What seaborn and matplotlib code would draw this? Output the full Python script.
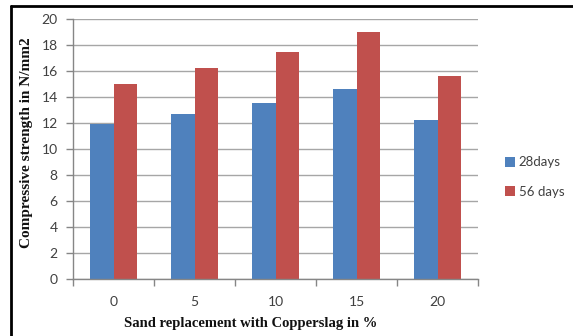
import matplotlib
matplotlib.use("Agg")
import matplotlib.pyplot as plt
import seaborn as sns
import pandas as pd
from matplotlib.patches import Patch
from matplotlib.lines import Line2D

# Sand replacement levels (%) and compressive strength (N/mm2)
replacement = ["0", "5", "10", "15", "20"]
days28 = [11.9, 12.7, 13.55, 14.6, 12.25]
days56 = [15.0, 16.25, 17.45, 19.0, 15.65]
series_names = ["28days", "56 days"]
colors = ["#4F81BD", "#C0504D"]

df = pd.DataFrame({
    "replacement": replacement * 2,
    "strength": days28 + days56,
    "age": [series_names[0]] * len(days28) + [series_names[1]] * len(days56),
})

sns.set_theme(style="white")
plt.rcParams["font.family"] = ["Lato", "DejaVu Sans"]

fig = plt.figure(figsize=(5.73, 3.36), dpi=100)
fig.patch.set_facecolor("white")
ax = fig.add_axes([73 / 573, 1 - 279 / 336, (478 - 73) / 573, (279 - 19) / 336])

sns.barplot(data=df, x="replacement", y="strength", hue="age",
            palette=colors, width=0.57, gap=0, ax=ax, legend=False,
            saturation=1, edgecolor="none")

ax.set_ylim(0, 20)
ax.set_xlim(-0.5, 4.5)
ax.set_yticks(range(0, 21, 2))
ax.yaxis.grid(True, color="#A6A6A6", linewidth=1)
ax.set_axisbelow(True)

grid_gray = "#868686"
for s in ["top", "right"]:
    ax.spines[s].set_visible(False)
for s in ["left", "bottom"]:
    ax.spines[s].set_color(grid_gray)
    ax.spines[s].set_linewidth(1)

ax.tick_params(axis="y", left=True, length=5, color=grid_gray, width=1,
               labelsize=10, labelcolor="#404040", pad=6)
ax.tick_params(axis="x", bottom=False, length=0, labelsize=10,
               labelcolor="#404040", pad=12)
ax.set_xticks([i - 0.5 for i in range(6)], minor=True)
ax.tick_params(axis="x", which="minor", bottom=True, length=5,
               color=grid_gray, width=1)

ax.set_xlabel("")
ax.set_ylabel("")

serif = ["Liberation Serif", "DejaVu Serif"]
fig.text(27 / 573, 1 - 143 / 336, "Compressive strength in N/mm2",
         rotation=90, ha="center", va="center", fontsize=11,
         fontweight="bold", family=serif, color="#111111")
fig.text(251 / 573, 1 - 323 / 336, "Sand replacement with Copperslag in %",
         ha="center", va="center", fontsize=10.5, fontweight="bold",
         family=serif, color="#111111")

handles = [Patch(facecolor=c, edgecolor="none") for c in colors]
fig.legend(handles, series_names, loc="center left",
           bbox_to_anchor=(505 / 573, 1 - 177 / 336), frameon=False,
           borderpad=0, borderaxespad=0,
           fontsize=9.5, handlelength=0.75, handleheight=0.75,
           handletextpad=0.3, labelspacing=1.3, labelcolor="#404040")

# outer frame of the figure
fig.add_artist(Line2D([11 / 573, 1.0], [1 - 6 / 336, 1 - 6 / 336],
                      transform=fig.transFigure, color="black", linewidth=2))
fig.add_artist(Line2D([11 / 573, 11 / 573], [0.0, 1 - 6 / 336],
                      transform=fig.transFigure, color="black", linewidth=2))

fig.savefig("out.png", dpi=100, facecolor="white")
